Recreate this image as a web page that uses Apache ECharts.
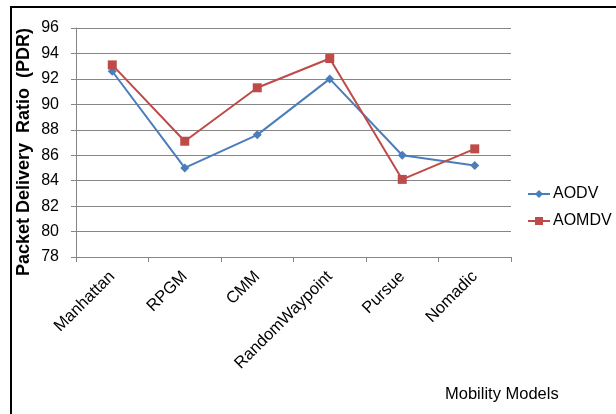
<!DOCTYPE html>
<html>
<head>
<meta charset="utf-8">
<script src="https://cdn.jsdelivr.net/npm/echarts@6/dist/echarts.min.js"></script>
<style>
  html, body { margin: 0; padding: 0; background: #fff; }
  #chart { width: 616px; height: 414px; }
</style>
</head>
<body>
<div id="chart"></div>
<script>
// Mobility models on the category axis
const categories = ['Manhattan', 'RPGM', 'CMM', 'RandomWaypoint', 'Pursue', 'Nomadic'];
// Packet delivery ratio (%) per routing protocol
const aodv = [92.6, 85.0, 87.6, 92.0, 86.0, 85.2];
const aomdv = [93.1, 87.1, 91.3, 93.6, 84.1, 86.5];
// Value axis range
const yMin = 78, yMax = 96, yStep = 2;

const font = 'Liberation Sans, Arial, sans-serif';
const chart = echarts.init(document.getElementById('chart'));
chart.setOption({
  animation: false,
  backgroundColor: '#fff',
  grid: { left: 76, right: 105, top: 28, bottom: 157 },
  legend: {
    orient: 'vertical',
    left: 522,
    top: 181,
    itemGap: 11,
    itemWidth: 22,
    itemHeight: 10,
    textStyle: { fontFamily: font, fontSize: 16, color: '#000', padding: [0, 0, 0, -2] },
    data: ['AODV', 'AOMDV']
  },
  xAxis: {
    type: 'category',
    data: categories,
    boundaryGap: true,
    axisLine: { lineStyle: { color: '#868686', width: 1 } },
    axisTick: { show: true, alignWithLabel: false, length: 5, lineStyle: { color: '#868686' } },
    axisLabel: {
      rotate: 45, margin: 17, fontFamily: font, fontSize: 16.5, color: '#000', interval: 0
    }
  },
  yAxis: {
    type: 'value',
    min: yMin, max: yMax, interval: yStep,
    axisLine: { show: true, lineStyle: { color: '#868686', width: 1 } },
    axisTick: { show: true, length: 5, lineStyle: { color: '#868686' } },
    axisLabel: { fontFamily: font, fontSize: 16, color: '#000', margin: 17 },
    splitLine: { lineStyle: { color: '#868686', width: 1 } }
  },
  series: [
    {
      name: 'AODV', type: 'line', data: aodv,
      symbol: 'diamond', symbolSize: 9,
      itemStyle: { color: '#4a7ebb' },
      lineStyle: { color: '#4a7ebb', width: 2 }
    },
    {
      name: 'AOMDV', type: 'line', data: aomdv,
      symbol: 'rect', symbolSize: 9,
      itemStyle: { color: '#be4b48' },
      lineStyle: { color: '#be4b48', width: 2 }
    }
  ],
  graphic: [
    {
      type: 'rect', silent: true,
      shape: { x: 11, y: 7, width: 700, height: 500 },
      style: { fill: 'none', stroke: '#000', lineWidth: 2 }
    },
    {
      type: 'text', x: 24, y: 152, rotation: Math.PI / 2,
      style: {
        text: 'Packet Delivery  Ratio  (PDR)', fontFamily: font, fontSize: 18,
        fontWeight: 'bold', fill: '#000', align: 'center', verticalAlign: 'middle'
      }
    },
    {
      type: 'text', left: 445, top: 386,
      style: { text: 'Mobility Models', fontFamily: font, fontSize: 16.5, fill: '#000' }
    }
  ]
});
</script>
</body>
</html>
